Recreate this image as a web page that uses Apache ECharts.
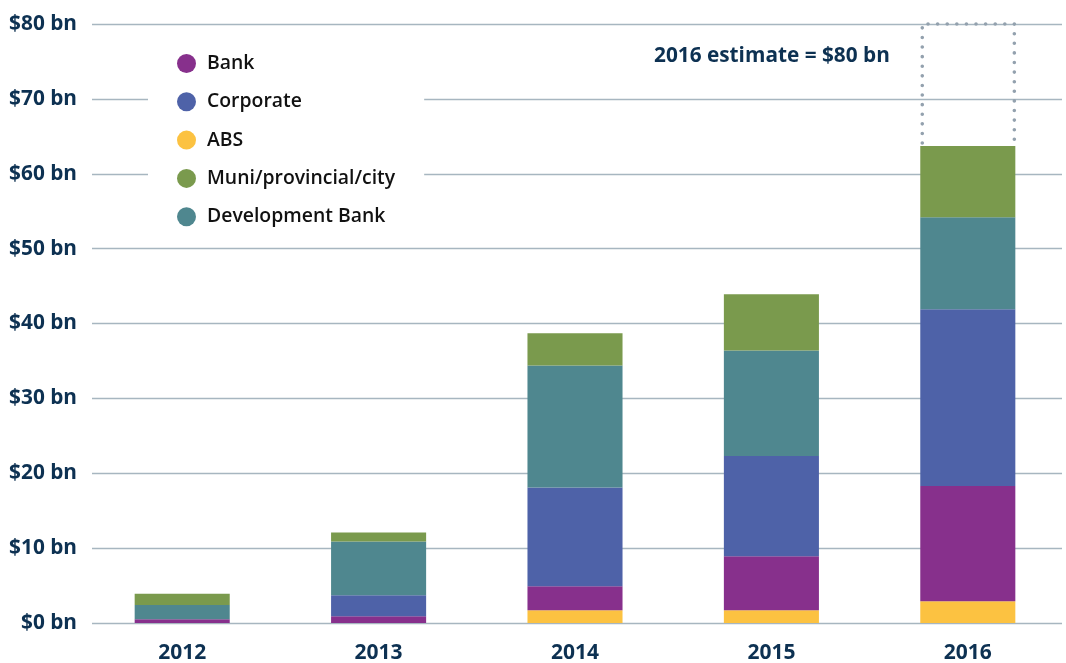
<!DOCTYPE html>
<html>
<head>
<meta charset="utf-8">
<script src="https://cdn.jsdelivr.net/npm/echarts@6/dist/echarts.min.js"></script>
<style>
html,body{margin:0;padding:0;background:#fff;}
#chart{width:1066px;height:663px;}
</style>
</head>
<body>
<div id="chart"></div>
<script>
var years = ['2012', '2013', '2014', '2015', '2016'];
var abs = [0, 0, 1.7, 1.7, 2.9];
var bank = [0.5, 0.9, 3.2, 7.2, 15.4];
var corporate = [0, 2.8, 13.2, 13.4, 23.6];
var devBank = [1.9, 7.2, 16.3, 14.1, 12.3];
var muni = [1.5, 1.2, 4.3, 7.5, 9.5];
var estimate2016 = 80;
var estimateYearIndex = 4;
var yTicks = [0, 10, 20, 30, 40, 50, 60, 70, 80];
var annotationText = '2016 estimate = $80 bn';

var NAVY = '#0d3152';
var FONT = '"Open Sans", "Noto Sans", sans-serif';
var GRID_COLOR = '#a7b6c0';

var total2016 = abs[estimateYearIndex] + bank[estimateYearIndex] + corporate[estimateYearIndex] + devBank[estimateYearIndex] + muni[estimateYearIndex];

var chart = echarts.init(document.getElementById('chart'), null, {renderer: 'canvas'});

function barSeries(name, data, color) {
  return {
    name: name, type: 'bar', stack: 'total', data: data,
    xAxisIndex: 0, yAxisIndex: 0,
    barWidth: '48.4%',
    itemStyle: {color: color},
    emphasis: {disabled: true},
    z: 3
  };
}

var option = {
  animation: false,
  backgroundColor: '#fff',
  grid: [
    {left: 84, right: 0, top: 24, bottom: 40, containLabel: false, outerBoundsMode: 'none'},
    {left: 92, right: 4, top: 24, bottom: 40, containLabel: false, outerBoundsMode: 'none'}
  ],
  xAxis: [
    {
      type: 'category', gridIndex: 0, data: years,
      axisLine: {show: false}, axisTick: {show: false},
      axisLabel: {color: NAVY, fontFamily: FONT, fontWeight: 'bold', fontSize: 21, margin: 19, lineHeight: 22}
    },
    {type: 'value', gridIndex: 1, min: 0, max: 1, show: false}
  ],
  yAxis: [
    {type: 'value', gridIndex: 0, min: 0, max: 80, interval: 10, show: false, splitLine: {show: false}},
    {
      type: 'value', gridIndex: 1, min: 0, max: 80, interval: 10,
      axisLine: {show: false}, axisTick: {show: false},
      splitLine: {show: true, lineStyle: {color: GRID_COLOR, width: 1.4}},
      axisLabel: {
        color: NAVY, fontFamily: FONT, fontWeight: 'bold', fontSize: 20.8, margin: 15,
        formatter: function (v) { return yTicks.indexOf(v) >= 0 ? '$' + v + ' bn' : ''; }
      }
    }
  ],
  legend: {
    orient: 'vertical',
    left: 148, top: 43,
    padding: [11, 29, 11, 29],
    backgroundColor: '#ffffff',
    itemWidth: 19, itemHeight: 19, itemGap: 19.3,
    icon: 'circle',
    data: ['Bank', 'Corporate', 'ABS', 'Muni/provincial/city', 'Development Bank'],
    textStyle: {color: '#111111', fontFamily: FONT, fontWeight: 600, fontSize: 19.4, padding: [0, 0, 0, 6]},
    selectedMode: false,
    z: 5
  },
  graphic: [
    {
      type: 'text', left: 654, top: 46, z: 10,
      style: {text: annotationText, fill: NAVY, font: 'bold 20.8px ' + FONT}
    }
  ],
  series: [
    barSeries('ABS', abs, '#fcc241'),
    barSeries('Bank', bank, '#87308c'),
    barSeries('Corporate', corporate, '#4e62a8'),
    barSeries('Development Bank', devBank, '#4f878f'),
    barSeries('Muni/provincial/city', muni, '#7a9a4d'),
    {
      type: 'custom', xAxisIndex: 0, yAxisIndex: 0, z: 4,
      data: [[estimateYearIndex, total2016, estimate2016]],
      renderItem: function (params, api) {
        var x = api.value(0);
        var low = api.coord([x, api.value(1)]);
        var high = api.coord([x, api.value(2)]);
        var w = api.size([1, 0])[0] * 0.484;
        var l = low[0] - w / 2 + 2, r = low[0] + w / 2 - 1;
        return {
          type: 'polyline',
          shape: {points: [[l, low[1] - 3], [l, high[1]], [r, high[1]], [r, low[1] - 3]]},
          style: {stroke: '#93a1ae', lineWidth: 3.6, lineDash: [0, 9.6], lineCap: 'round', fill: null}
        };
      }
    }
  ]
};
chart.setOption(option);
</script>
</body>
</html>
